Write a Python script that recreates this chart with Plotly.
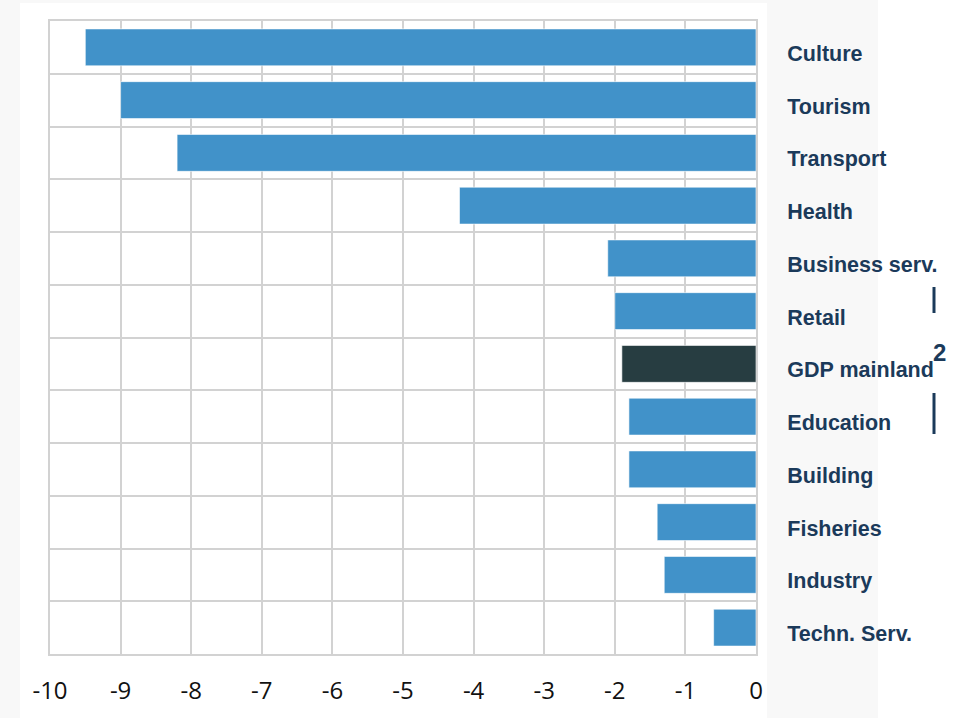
import plotly.graph_objects as go

categories = ["Culture", "Tourism", "Transport", "Health", "Business serv.", "Retail",
              "GDP mainland", "Education", "Building", "Fisheries", "Industry", "Techn. Serv."]
values = [-9.5, -9.0, -8.2, -4.2, -2.1, -2.0, -1.9, -1.8, -1.8, -1.4, -1.3, -0.6]
x_ticks = [-10, -9, -8, -7, -6, -5, -4, -3, -2, -1, 0]

BLUE = "#4192c9"
DARK = "#273d41"
NAVY = "#1b3a5a"
colors = [DARK if c == "GDP mainland" else BLUE for c in categories]

W, H = 956, 718
L, R, T, B = 50, 200, 21, 64
pw = W - L - R
ph = H - T - B

def px(x):
    return (x - L) / pw

def py(y):
    return (H - B - y) / ph

fig = go.Figure()
fig.add_trace(go.Bar(
    x=values, y=categories, orientation="h",
    marker=dict(color=colors, line=dict(color="rgba(255,255,255,0.6)", width=1)),
    width=0.7, hoverinfo="x+y",
))

shapes = [
    dict(type="rect", xref="paper", yref="paper", x0=px(0), x1=px(878), y0=py(0), y1=py(H),
         fillcolor="#f8f8f8", line=dict(width=0), layer="below"),
    dict(type="rect", xref="paper", yref="paper", x0=px(20), x1=px(767), y0=py(3), y1=py(H),
         fillcolor="#ffffff", line=dict(width=0), layer="below"),
    dict(type="line", xref="paper", yref="paper", x0=px(934), x1=px(934), y0=py(287), y1=py(313),
         line=dict(color=NAVY, width=3)),
    dict(type="line", xref="paper", yref="paper", x0=px(934), x1=px(934), y0=py(393), y1=py(434),
         line=dict(color=NAVY, width=3)),
]

fig.update_layout(
    width=W, height=H,
    margin=dict(l=L, r=R, t=T, b=B, autoexpand=False),
    paper_bgcolor="#ffffff",
    plot_bgcolor="#ffffff",
    showlegend=False,
    shapes=shapes,
    annotations=[dict(text="<b>2</b>", xref="paper", yref="paper", x=px(939), y=py(353),
                      showarrow=False, font=dict(family="Liberation Sans, Arial", size=24, color=NAVY),
                      xanchor="center", yanchor="middle")],
    xaxis=dict(range=[-10, 0], tickvals=x_ticks, ticktext=[str(v) for v in x_ticks],
               automargin=False,
               showgrid=True, gridcolor="#d2d2d2", gridwidth=2, zeroline=False,
               showline=True, linecolor="#d2d2d2", linewidth=2, mirror=True,
               ticks="", ticklabelstandoff=14,
               tickfont=dict(family="Liberation Sans Narrow, Open Sans", size=24, color="#111111")),
    yaxis=dict(categoryorder="array", categoryarray=categories, autorange="reversed",
               automargin=False,
               side="right", tickson="boundaries", showgrid=True, gridcolor="#d2d2d2", gridwidth=2,
               showline=True, linecolor="#d2d2d2", linewidth=2, mirror=True,
               ticks="", ticklabelstandoff=25, ticklabelshift=-6,
               tickfont=dict(family="Liberation Sans, Arial", size=21.5, color=NAVY, weight="bold")),
    bargap=0.3,
)

fig.write_html("out.html", config={"displayModeBar": False},
               post_script="document.body.style.margin='0';")
